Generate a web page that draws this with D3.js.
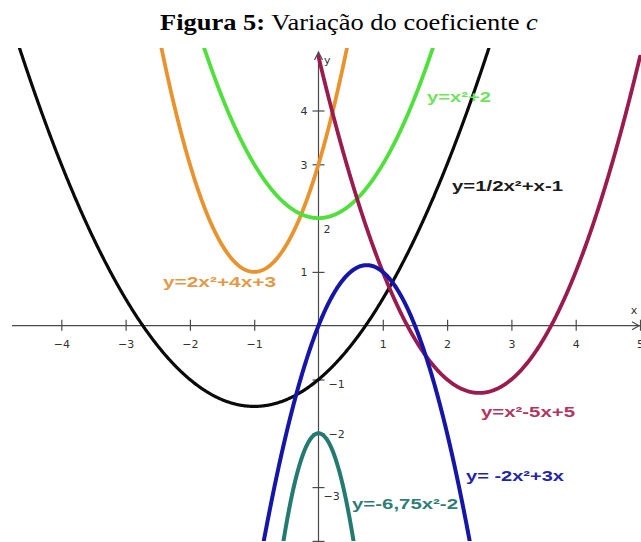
<!DOCTYPE html>
<html>
<head>
<meta charset="utf-8">
<script src="https://cdn.jsdelivr.net/npm/d3@7/dist/d3.min.js"></script>
<style>
  html, body { margin: 0; padding: 0; background: #fff; }
  svg { display: block; }
</style>
</head>
<body>
<svg id="chart" width="641" height="542"></svg>
<script>
// Parabolas y = a·x² + b·x + c, one entry per curve
const curveNames = ["black", "orange", "green", "maroon", "blue", "teal"];
const coefA = [0.5, 2, 1, 1, -2, -6.75];
const coefB = [1, 4, 0, -5, 3, 0];
const coefC = [-1, 3, 2, 5, 0, -2];
const xStart = [-5, -5, -5, 0, -5, -5];
const curveLabels = ["y=1/2x²+x-1", "y=2x²+4x+3", "y=x²+2", "y=x²-5x+5", "y= -2x²+3x", "y=-6,75x²-2"];

// Axis ticks (the -4 tick on the y axis sits at the lower border, unlabelled)
const xTicks = [-4, -3, -2, -1, 1, 2, 3, 4, 5];
const yTicks = [-4, -3, -2, -1, 1, 2, 3, 4];
const yTickLabels = ["", "\u22123", "\u22122", "\u22121", "1", "2", "3", "4"];

const lineColors = {
  black: "#0a0a0a", orange: "#e8932e", green: "#4fe03c",
  maroon: "#9a1c4e", blue: "#1515a8", teal: "#237a70"
};
const labelColors = {
  black: "#1a1a1a", orange: "#e39a48", green: "#6fe35c",
  maroon: "#b3345f", blue: "#2424aa", teal: "#2f7d76"
};
const lineWidths = { black: 3.2, orange: 3.8, green: 3.8, maroon: 3.8, blue: 4, teal: 4 };

const svg = d3.select("#chart");

// Title
const title = svg.append("text")
  .attr("x", 0).attr("y", 30)
  .attr("font-family", "'Liberation Serif', 'Times New Roman', serif")
  .attr("font-size", 23)
  .attr("fill", "#000");
title.append("tspan").attr("font-weight", "bold").text("Figura 5:");
title.append("tspan").text(" Variação do coeficiente ");
title.append("tspan").attr("font-style", "italic").text("c");
{
  const w = title.node().getComputedTextLength();
  title.attr("transform", `translate(160,0) scale(${378 / w},1)`);
}

// Scales
const ox = 318.5, ux = 64.3, oy = 325.7, uy = 53.8;
const x = d3.scaleLinear().domain([-5, 5]).range([ox - 5 * ux, ox + 5 * ux]);
const y = d3.scaleLinear().domain([-4, 5]).range([oy + 4 * uy, oy - 5 * uy]);

const plot = svg.append("g");

// Axes
const axisColor = "#4a4a4a";
const xAxis = d3.axisBottom(x).tickValues(xTicks).tickFormat(d => d < 0 ? "\u2212" + Math.abs(d) : d);
const gx = plot.append("g").attr("transform", `translate(0,${y(0)})`).call(xAxis);
gx.select(".domain").remove();
gx.selectAll(".tick line").attr("y1", -6).attr("y2", 5).attr("stroke", axisColor).attr("stroke-width", 1.2);
gx.selectAll(".tick text").attr("y", 22).attr("dy", 0)
  .attr("font-family", "'DejaVu Sans', sans-serif").attr("font-size", 11).attr("fill", "#333");
gx.append("line").attr("x1", 12).attr("x2", 641).attr("y1", 0).attr("y2", 0)
  .attr("stroke", axisColor).attr("stroke-width", 1.2);
gx.append("path").attr("d", "M632,-4 L639,0 L632,4").attr("fill", "none")
  .attr("stroke", axisColor).attr("stroke-width", 1.2);
gx.append("text").attr("x", 634).attr("y", -12).text("x")
  .attr("font-family", "'DejaVu Sans', sans-serif").attr("font-size", 11).attr("fill", "#333");

const yAxis = d3.axisLeft(y).tickValues(yTicks).tickFormat((d, i) => yTickLabels[i]);
const gy = plot.append("g").attr("transform", `translate(${x(0)},0)`).call(yAxis);
gy.select(".domain").remove();
gy.selectAll(".tick line").attr("x1", -6).attr("x2", 6).attr("stroke", axisColor).attr("stroke-width", 1.2);
gy.selectAll(".tick text")
  .attr("font-family", "'DejaVu Sans', sans-serif").attr("font-size", 11).attr("fill", "#333")
  .attr("dy", 0)
  .attr("text-anchor", d => (d > 0 && d !== 2) ? "end" : "start")
  .attr("x", d => (d > 0 && d !== 2) ? -11 : (d === 2 || d === -3 ? 5 : 10))
  .attr("y", d => d === 2 ? 14 : d === -3 ? 12 : d === -1 ? 8 : 4);
gy.append("line").attr("x1", 0).attr("x2", 0).attr("y1", 52).attr("y2", 542)
  .attr("stroke", axisColor).attr("stroke-width", 1.2);
gy.append("path").attr("d", "M-4,60 L0,52 L4,60").attr("fill", "none")
  .attr("stroke", axisColor).attr("stroke-width", 1.2);
gy.append("text").attr("x", 12).attr("y", 64).text("y")
  .attr("font-family", "'DejaVu Sans', sans-serif").attr("font-size", 11).attr("fill", "#333");

// Curves, clipped to the visible plot area
svg.append("clipPath").attr("id", "plotClip")
  .append("rect").attr("x", 0).attr("y", 48).attr("width", 641).attr("height", 493);

const curves = curveNames.map((name, i) => {
  const a = coefA[i], b = coefB[i], c = coefC[i];
  const pts = d3.range(xStart[i], 5.0001, 0.01).map(t => [t, a * t * t + b * t + c]);
  return { name, pts };
});

const line = d3.line().x(d => x(d[0])).y(d => y(d[1]));
plot.append("g").attr("clip-path", "url(#plotClip)")
  .selectAll("path").data(curves).join("path")
  .attr("d", d => line(d.pts))
  .attr("fill", "none")
  .attr("stroke", d => lineColors[d.name])
  .attr("stroke-width", d => lineWidths[d.name])
  .attr("stroke-linecap", "round")
  .attr("stroke-linejoin", "round");

// Equation labels: [left, baseline, width]
const labelPlace = {
  green: [427, 102, 64],
  black: [452, 191, 111],
  orange: [163, 287, 113],
  maroon: [481, 417, 94],
  blue: [466, 481, 98],
  teal: [352, 509, 106]
};
plot.append("g").selectAll("text").data(curveNames).join("text")
  .attr("x", d => labelPlace[d][0])
  .attr("y", d => labelPlace[d][1])
  .attr("textLength", d => labelPlace[d][2])
  .attr("lengthAdjust", "spacingAndGlyphs")
  .attr("font-family", "'Liberation Sans', Arial, sans-serif")
  .attr("font-weight", "bold")
  .attr("font-size", 15)
  .attr("fill", d => labelColors[d])
  .text((d, i) => curveLabels[i]);
</script>
</body>
</html>
